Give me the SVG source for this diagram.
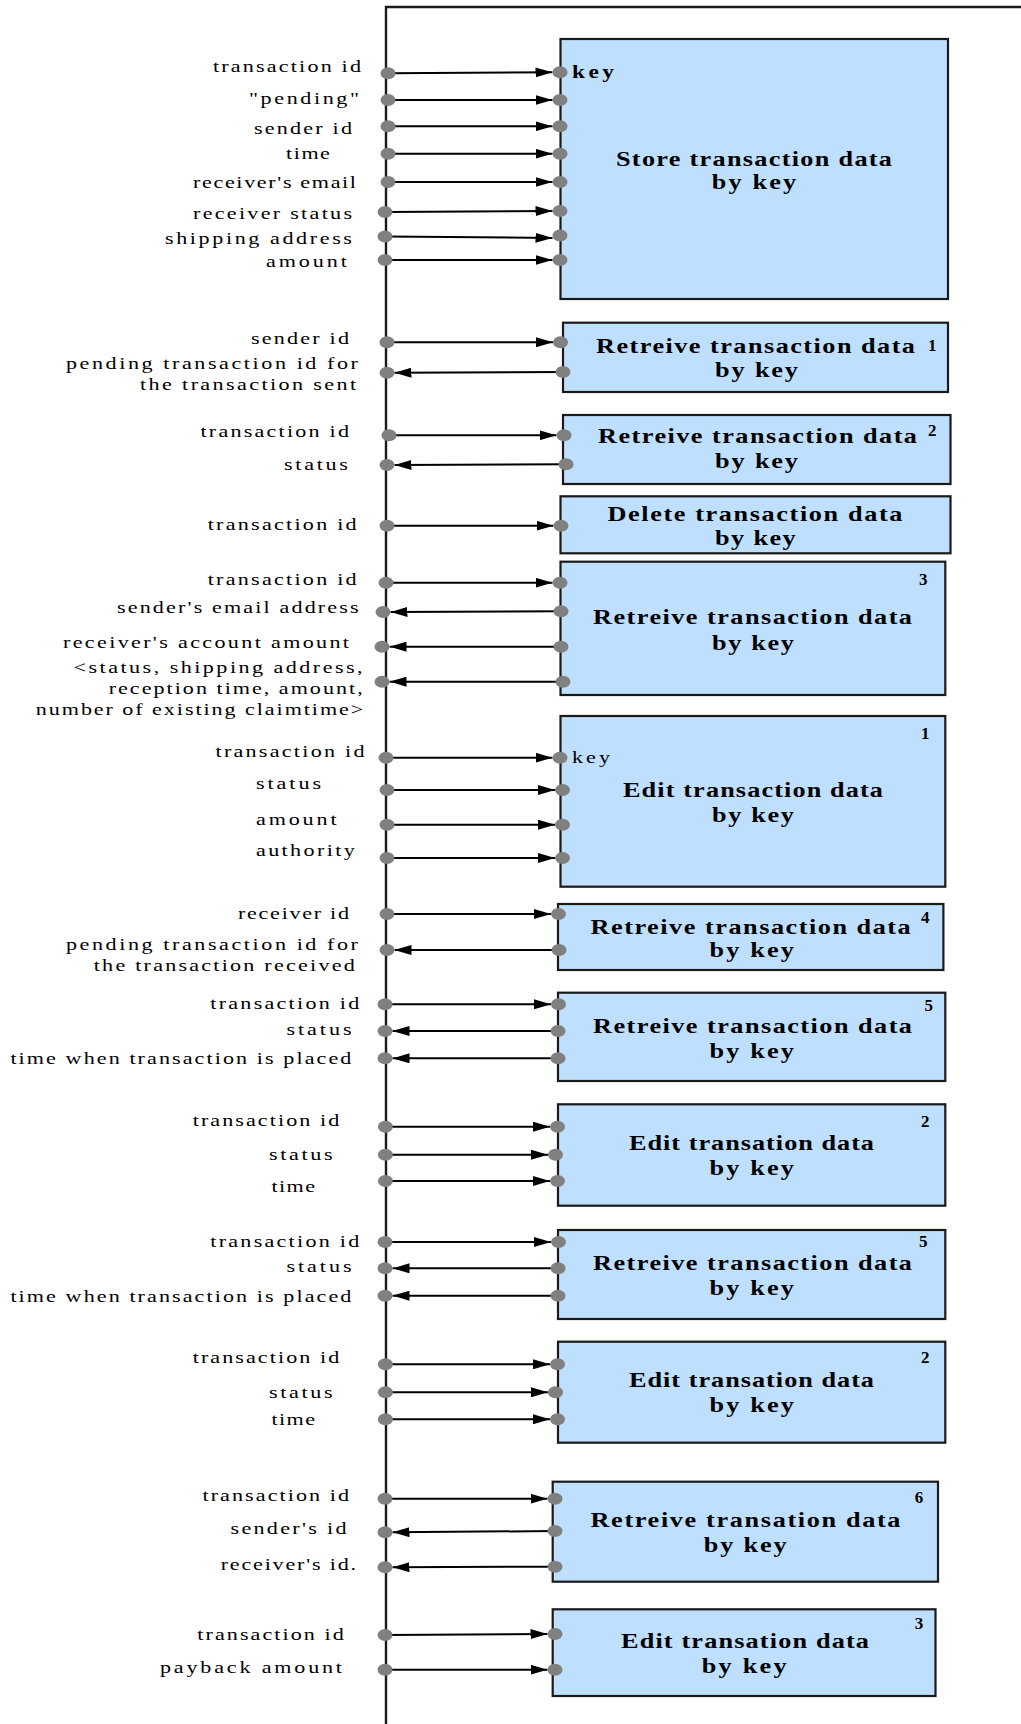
<svg xmlns="http://www.w3.org/2000/svg" width="1021" height="1724" viewBox="0 0 1021 1724">
<style>
.lbl{font-family:"Liberation Serif","Times New Roman",serif;font-size:17px;fill:#000;transform-box:fill-box;transform-origin:0 0;transform:scaleX(1.3)}
.ttl{font-family:"Liberation Serif","Times New Roman",serif;font-size:21px;font-weight:bold;fill:#000;transform-box:fill-box;transform-origin:0 0;transform:scaleX(1.25)}
.m{transform-origin:50% 0}
.num{font-family:"Liberation Serif","Times New Roman",serif;font-size:17px;font-weight:bold;fill:#000}
.kb{font-weight:bold;font-size:18px}
.box{fill:#bfdfff;stroke:#1a1a1a;stroke-width:2.2}
.c{stroke:#000;stroke-width:2;fill:none;marker-end:url(#ah)}
.d{fill:#808080}
.frame{stroke:#1a1a1a;stroke-width:2.4;fill:none}
</style>
<defs>
<marker id="ah" markerUnits="userSpaceOnUse" markerWidth="17" markerHeight="10" refX="17" refY="5" orient="auto"><path d="M0,0 L17,5 L0,10 z" fill="#000"/></marker>
</defs>
<rect width="1021" height="1724" fill="#fff"/>
<g id="frame"><path class="frame" d="M386,1724 V7 H1021"/></g>

<g id="node-store">
<rect class="box" x="560.5" y="39" width="387.5" height="260"/>
<text class="ttl m" x="754" y="165.7" text-anchor="middle" textLength="220.8" lengthAdjust="spacing">Store transaction data</text>
<text class="ttl m" x="754" y="189" text-anchor="middle" textLength="67.6" lengthAdjust="spacing">by key</text>
<text class="lbl kb" x="572" y="78.5" textLength="32.3" lengthAdjust="spacing">key</text>
<text class="lbl" x="213" y="72" textLength="113.8" lengthAdjust="spacing">transaction id</text>
<text class="lbl" x="249" y="104" textLength="84.6" lengthAdjust="spacing">"pending"</text>
<text class="lbl" x="254" y="134" textLength="75.4" lengthAdjust="spacing">sender id</text>
<text class="lbl" x="286" y="159" textLength="33.8" lengthAdjust="spacing">time</text>
<text class="lbl" x="193" y="188.5" textLength="125.4" lengthAdjust="spacing">receiver's email</text>
<text class="lbl" x="193" y="219.5" textLength="122.3" lengthAdjust="spacing">receiver status</text>
<text class="lbl" x="165" y="244" textLength="143.8" lengthAdjust="spacing">shipping address</text>
<text class="lbl" x="266" y="267.5" textLength="62.3" lengthAdjust="spacing">amount</text>
</g>

<g id="node-retrieve-1">
<rect class="box" x="563" y="322.7" width="385" height="69.3"/>
<text class="ttl" x="596" y="353.3" textLength="255.2" lengthAdjust="spacing">Retreive transaction data</text>
<text class="num" x="928" y="350.7">1</text>
<text class="ttl" x="715" y="376.7" textLength="66.4" lengthAdjust="spacing">by key</text>
<text class="lbl" x="251" y="344.3" textLength="75.4" lengthAdjust="spacing">sender id</text>
<text class="lbl" x="66" y="369" textLength="224.6" lengthAdjust="spacing">pending transaction id  for</text>
<text class="lbl" x="140" y="390" textLength="166.2" lengthAdjust="spacing">the transaction sent</text>
</g>

<g id="node-retrieve-2">
<rect class="box" x="563" y="415" width="387.5" height="69"/>
<text class="ttl" x="598" y="443.3" textLength="255.2" lengthAdjust="spacing">Retreive transaction data</text>
<text class="num" x="928" y="436">2</text>
<text class="ttl" x="715" y="468.3" textLength="66.4" lengthAdjust="spacing">by key</text>
<text class="lbl" x="200.5" y="436.7" textLength="114.2" lengthAdjust="spacing">transaction id</text>
<text class="lbl" x="284" y="470" textLength="49.2" lengthAdjust="spacing">status</text>
</g>

<g id="node-delete">
<rect class="box" x="560.5" y="496.3" width="390" height="57"/>
<text class="ttl" x="607.4" y="520.7" textLength="236" lengthAdjust="spacing">Delete transaction data</text>
<text class="ttl" x="715" y="545" textLength="64.5" lengthAdjust="spacing">by key</text>
<text class="lbl" x="207.7" y="530" textLength="114.6" lengthAdjust="spacing">transaction id</text>
</g>

<g id="node-retrieve-3">
<rect class="box" x="560.5" y="561.7" width="384.8" height="133.3"/>
<text class="ttl" x="593" y="624" textLength="255.2" lengthAdjust="spacing">Retreive transaction data</text>
<text class="num" x="919" y="585">3</text>
<text class="ttl" x="712" y="650" textLength="65.6" lengthAdjust="spacing">by key</text>
<text class="lbl" x="207.7" y="585" textLength="114.6" lengthAdjust="spacing">transaction id</text>
<text class="lbl" x="117" y="613.3" textLength="185.9" lengthAdjust="spacing">sender's email address</text>
<text class="lbl" x="63" y="648.3" textLength="220" lengthAdjust="spacing">receiver's account amount</text>
<text class="lbl" x="73.6" y="673.3" textLength="222.3" lengthAdjust="spacing">&lt;status, shipping address,</text>
<text class="lbl" x="108.7" y="694" textLength="195.4" lengthAdjust="spacing">reception time, amount,</text>
<text class="lbl" x="35.8" y="715" textLength="251.9" lengthAdjust="spacing">number of existing claimtime&gt;</text>
</g>

<g id="node-edit-1">
<rect class="box" x="560.5" y="716" width="384.8" height="170.7"/>
<text class="ttl" x="623" y="797.3" textLength="208" lengthAdjust="spacing">Edit  transaction data</text>
<text class="num" x="921" y="739.3">1</text>
<text class="ttl" x="712" y="821.7" textLength="65.6" lengthAdjust="spacing">by key</text>
<text class="lbl" x="572" y="763.3" textLength="29.2" lengthAdjust="spacing">key</text>
<text class="lbl" x="215.5" y="757" textLength="114.6" lengthAdjust="spacing">transaction  id</text>
<text class="lbl" x="256" y="789.5" textLength="50" lengthAdjust="spacing">status</text>
<text class="lbl" x="256" y="825.5" textLength="62" lengthAdjust="spacing">amount</text>
<text class="lbl" x="256" y="856.5" textLength="76" lengthAdjust="spacing">authority</text>
</g>

<g id="node-retrieve-4">
<rect class="box" x="558" y="904" width="385.4" height="66"/>
<text class="ttl" x="590.5" y="934" textLength="256.2" lengthAdjust="spacing">Retreive transaction data</text>
<text class="num" x="921" y="922.7">4</text>
<text class="ttl" x="709.6" y="956.7" textLength="67.5" lengthAdjust="spacing">by key</text>
<text class="lbl" x="238" y="919" textLength="85.4" lengthAdjust="spacing">receiver id</text>
<text class="lbl" x="66" y="950" textLength="224.6" lengthAdjust="spacing">pending transaction id  for</text>
<text class="lbl" x="93.75" y="970.7" textLength="200.8" lengthAdjust="spacing">the transaction received</text>
</g>

<g id="node-retrieve-5a">
<rect class="box" x="558" y="992.7" width="387.3" height="88.3"/>
<text class="ttl" x="593" y="1033.3" textLength="255.2" lengthAdjust="spacing">Retreive transaction data</text>
<text class="num" x="924.5" y="1010.7">5</text>
<text class="ttl" x="709.6" y="1058.3" textLength="67.5" lengthAdjust="spacing">by key</text>
<text class="lbl" x="210.3" y="1009.3" textLength="114.6" lengthAdjust="spacing">transaction id</text>
<text class="lbl" x="286.5" y="1035" textLength="50" lengthAdjust="spacing">status</text>
<text class="lbl" x="10.4" y="1064" textLength="262.3" lengthAdjust="spacing">time when transaction is placed</text>
</g>

<g id="node-edit-2a">
<rect class="box" x="558" y="1104.3" width="387.3" height="101.4"/>
<text class="ttl" x="629" y="1150" textLength="196" lengthAdjust="spacing">Edit transation data</text>
<text class="num" x="921" y="1126.7">2</text>
<text class="ttl" x="709.6" y="1175" textLength="67.5" lengthAdjust="spacing">by key</text>
<text class="lbl" x="192.7" y="1126" textLength="112.7" lengthAdjust="spacing">transaction id</text>
<text class="lbl" x="269" y="1160" textLength="49" lengthAdjust="spacing">status</text>
<text class="lbl" x="271.5" y="1191.7" textLength="33.5" lengthAdjust="spacing">time</text>
</g>

<g id="node-retrieve-5b">
<rect class="box" x="558" y="1230" width="387.3" height="89"/>
<text class="ttl" x="593" y="1270" textLength="255.2" lengthAdjust="spacing">Retreive transaction data</text>
<text class="num" x="919" y="1246.7">5</text>
<text class="ttl" x="709.6" y="1295" textLength="67.5" lengthAdjust="spacing">by key</text>
<text class="lbl" x="210.3" y="1246.7" textLength="114.6" lengthAdjust="spacing">transaction id</text>
<text class="lbl" x="286.5" y="1271.7" textLength="50" lengthAdjust="spacing">status</text>
<text class="lbl" x="10.4" y="1301.7" textLength="262.3" lengthAdjust="spacing">time when transaction is placed</text>
</g>

<g id="node-edit-2b">
<rect class="box" x="558" y="1341.7" width="387.3" height="101"/>
<text class="ttl" x="629" y="1386.7" textLength="196" lengthAdjust="spacing">Edit transation data</text>
<text class="num" x="921" y="1363.3">2</text>
<text class="ttl" x="709.6" y="1411.7" textLength="67.5" lengthAdjust="spacing">by key</text>
<text class="lbl" x="192.7" y="1363.3" textLength="112.7" lengthAdjust="spacing">transaction id</text>
<text class="lbl" x="269" y="1398.3" textLength="49" lengthAdjust="spacing">status</text>
<text class="lbl" x="271.5" y="1425" textLength="33.5" lengthAdjust="spacing">time</text>
</g>

<g id="node-retrieve-6">
<rect class="box" x="552.7" y="1481.7" width="385.3" height="100"/>
<text class="ttl" x="590.5" y="1526.7" textLength="248" lengthAdjust="spacing">Retreive transation data</text>
<text class="num" x="914.7" y="1503.3">6</text>
<text class="ttl" x="703.8" y="1551.7" textLength="66.2" lengthAdjust="spacing">by key</text>
<text class="lbl" x="202.5" y="1501" textLength="112.7" lengthAdjust="spacing">transaction id</text>
<text class="lbl" x="230.5" y="1534" textLength="89.2" lengthAdjust="spacing">sender's id</text>
<text class="lbl" x="220.7" y="1570" textLength="104.1" lengthAdjust="spacing">receiver's id.</text>
</g>

<g id="node-edit-3">
<rect class="box" x="552.7" y="1609.3" width="382.8" height="86.7"/>
<text class="ttl" x="621" y="1647.7" textLength="198.4" lengthAdjust="spacing">Edit transation data</text>
<text class="num" x="914.7" y="1629.3">3</text>
<text class="ttl" x="701.8" y="1673.3" textLength="67.8" lengthAdjust="spacing">by key</text>
<text class="lbl" x="197.3" y="1640" textLength="112.7" lengthAdjust="spacing">transaction id</text>
<text class="lbl" x="160" y="1673.3" textLength="140" lengthAdjust="spacing">payback amount</text>
</g>

<g id="connectors">
<line class="c" x1="388" y1="73.3" x2="552.5" y2="72.3"/>
<line class="c" x1="388" y1="100" x2="552.5" y2="100"/>
<line class="c" x1="388" y1="126.3" x2="552.5" y2="126.3"/>
<line class="c" x1="388" y1="153.7" x2="552.5" y2="153.7"/>
<line class="c" x1="388" y1="182" x2="552.5" y2="182"/>
<line class="c" x1="386" y1="212" x2="552.5" y2="211"/>
<line class="c" x1="386" y1="236.5" x2="552.5" y2="238"/>
<line class="c" x1="386" y1="260" x2="552.5" y2="260"/>
<line class="c" x1="387" y1="342.3" x2="553" y2="342.3"/>
<line class="c" x1="563" y1="372" x2="394.5" y2="372.7"/>
<line class="c" x1="389" y1="435.3" x2="556.5" y2="435.3"/>
<line class="c" x1="566" y1="464.3" x2="394.5" y2="465"/>
<line class="c" x1="387" y1="525.7" x2="553.5" y2="525.7"/>
<line class="c" x1="386" y1="582.7" x2="552.5" y2="582.7"/>
<line class="c" x1="561" y1="611.3" x2="390.5" y2="612"/>
<line class="c" x1="561" y1="646.7" x2="389.5" y2="646.7"/>
<line class="c" x1="563" y1="681.7" x2="389.5" y2="681.7"/>
<line class="c" x1="386" y1="757.7" x2="552.5" y2="757.7"/>
<line class="c" x1="387" y1="790" x2="555" y2="790"/>
<line class="c" x1="387" y1="824.7" x2="555" y2="824.7"/>
<line class="c" x1="387" y1="858" x2="555" y2="858"/>
<line class="c" x1="387" y1="914" x2="551" y2="914"/>
<line class="c" x1="559" y1="950" x2="394.5" y2="950"/>
<line class="c" x1="385" y1="1004.3" x2="551" y2="1004.3"/>
<line class="c" x1="558" y1="1031" x2="392.5" y2="1031"/>
<line class="c" x1="558" y1="1058.3" x2="392.5" y2="1058.3"/>
<line class="c" x1="385.4" y1="1126.7" x2="550" y2="1126.7"/>
<line class="c" x1="385.4" y1="1154.7" x2="548" y2="1154.7"/>
<line class="c" x1="385.4" y1="1181" x2="550" y2="1181"/>
<line class="c" x1="385" y1="1242" x2="551" y2="1242"/>
<line class="c" x1="558" y1="1268.3" x2="392.5" y2="1268.3"/>
<line class="c" x1="558" y1="1295.7" x2="392.5" y2="1295.7"/>
<line class="c" x1="385.4" y1="1364.3" x2="550" y2="1364.3"/>
<line class="c" x1="385.4" y1="1392.3" x2="548" y2="1392.3"/>
<line class="c" x1="385.4" y1="1419.3" x2="550" y2="1419.3"/>
<line class="c" x1="385" y1="1498.7" x2="547.5" y2="1498.7"/>
<line class="c" x1="555" y1="1531" x2="392.5" y2="1532.3"/>
<line class="c" x1="555" y1="1566.7" x2="392.5" y2="1567.3"/>
<line class="c" x1="385" y1="1635" x2="547.5" y2="1634"/>
<line class="c" x1="385" y1="1669.7" x2="547.5" y2="1669.7"/>

<g class="d">
<ellipse cx="388" cy="73.3" rx="7.5" ry="6"/><ellipse cx="560" cy="72.3" rx="7.5" ry="6"/>
<ellipse cx="388" cy="100" rx="7.5" ry="6"/><ellipse cx="560" cy="100" rx="7.5" ry="6"/>
<ellipse cx="388" cy="126.3" rx="7.5" ry="6"/><ellipse cx="560" cy="126.3" rx="7.5" ry="6"/>
<ellipse cx="388" cy="153.7" rx="7.5" ry="6"/><ellipse cx="560" cy="153.7" rx="7.5" ry="6"/>
<ellipse cx="388" cy="182" rx="7.5" ry="6"/><ellipse cx="560" cy="182" rx="7.5" ry="6"/>
<ellipse cx="385" cy="212" rx="7.5" ry="6"/><ellipse cx="560" cy="211" rx="7.5" ry="6"/>
<ellipse cx="385" cy="236.5" rx="7.5" ry="6"/><ellipse cx="560" cy="235.5" rx="7.5" ry="6"/>
<ellipse cx="385" cy="260" rx="7.5" ry="6"/><ellipse cx="560" cy="260" rx="7.5" ry="6"/>
<ellipse cx="387" cy="342.3" rx="7.5" ry="6"/><ellipse cx="560.5" cy="342.3" rx="7.5" ry="6"/>
<ellipse cx="387" cy="372.7" rx="7.5" ry="6"/><ellipse cx="563" cy="372" rx="7.5" ry="6"/>
<ellipse cx="389" cy="435.3" rx="7.5" ry="6"/><ellipse cx="564" cy="435.3" rx="7.5" ry="6"/>
<ellipse cx="387" cy="465" rx="7.5" ry="6"/><ellipse cx="566" cy="464.3" rx="7.5" ry="6"/>
<ellipse cx="387" cy="525.7" rx="7.5" ry="6"/><ellipse cx="561" cy="525.7" rx="7.5" ry="6"/>
<ellipse cx="386" cy="582.7" rx="7.5" ry="6"/><ellipse cx="560" cy="582.7" rx="7.5" ry="6"/>
<ellipse cx="383" cy="612" rx="7.5" ry="6"/><ellipse cx="561" cy="611.3" rx="7.5" ry="6"/>
<ellipse cx="382" cy="646.7" rx="7.5" ry="6"/><ellipse cx="561" cy="646.7" rx="7.5" ry="6"/>
<ellipse cx="382" cy="681.7" rx="7.5" ry="6"/><ellipse cx="563" cy="681.7" rx="7.5" ry="6"/>
<ellipse cx="386" cy="757.7" rx="7.5" ry="6"/><ellipse cx="560" cy="757.7" rx="7.5" ry="6"/>
<ellipse cx="387" cy="790" rx="7.5" ry="6"/><ellipse cx="562.5" cy="790" rx="7.5" ry="6"/>
<ellipse cx="387" cy="824.7" rx="7.5" ry="6"/><ellipse cx="562.5" cy="824.7" rx="7.5" ry="6"/>
<ellipse cx="387" cy="858" rx="7.5" ry="6"/><ellipse cx="562.5" cy="858" rx="7.5" ry="6"/>
<ellipse cx="387" cy="914" rx="7.5" ry="6"/><ellipse cx="558.5" cy="914" rx="7.5" ry="6"/>
<ellipse cx="387" cy="950" rx="7.5" ry="6"/><ellipse cx="559" cy="950" rx="7.5" ry="6"/>
<ellipse cx="385" cy="1004.3" rx="7.5" ry="6"/><ellipse cx="558.5" cy="1004.3" rx="7.5" ry="6"/>
<ellipse cx="385" cy="1031" rx="7.5" ry="6"/><ellipse cx="558" cy="1031" rx="7.5" ry="6"/>
<ellipse cx="385" cy="1058.3" rx="7.5" ry="6"/><ellipse cx="558" cy="1058.3" rx="7.5" ry="6"/>
<ellipse cx="385.4" cy="1126.7" rx="7.5" ry="6"/><ellipse cx="557.5" cy="1126.7" rx="7.5" ry="6"/>
<ellipse cx="385.4" cy="1154.7" rx="7.5" ry="6"/><ellipse cx="555.5" cy="1154.7" rx="7.5" ry="6"/>
<ellipse cx="385.4" cy="1181" rx="7.5" ry="6"/><ellipse cx="557.5" cy="1181" rx="7.5" ry="6"/>
<ellipse cx="385" cy="1242" rx="7.5" ry="6"/><ellipse cx="558.5" cy="1242" rx="7.5" ry="6"/>
<ellipse cx="385" cy="1268.3" rx="7.5" ry="6"/><ellipse cx="558" cy="1268.3" rx="7.5" ry="6"/>
<ellipse cx="385" cy="1295.7" rx="7.5" ry="6"/><ellipse cx="558" cy="1295.7" rx="7.5" ry="6"/>
<ellipse cx="385.4" cy="1364.3" rx="7.5" ry="6"/><ellipse cx="557.5" cy="1364.3" rx="7.5" ry="6"/>
<ellipse cx="385.4" cy="1392.3" rx="7.5" ry="6"/><ellipse cx="555.5" cy="1392.3" rx="7.5" ry="6"/>
<ellipse cx="385.4" cy="1419.3" rx="7.5" ry="6"/><ellipse cx="557.5" cy="1419.3" rx="7.5" ry="6"/>
<ellipse cx="385" cy="1498.7" rx="7.5" ry="6"/><ellipse cx="555" cy="1498.7" rx="7.5" ry="6"/>
<ellipse cx="385" cy="1532.3" rx="7.5" ry="6"/><ellipse cx="555" cy="1531" rx="7.5" ry="6"/>
<ellipse cx="385" cy="1567.3" rx="7.5" ry="6"/><ellipse cx="555" cy="1566.7" rx="7.5" ry="6"/>
<ellipse cx="385" cy="1635" rx="7.5" ry="6"/><ellipse cx="555" cy="1634" rx="7.5" ry="6"/>
<ellipse cx="385" cy="1669.7" rx="7.5" ry="6"/><ellipse cx="555" cy="1669.7" rx="7.5" ry="6"/>
</g>
</g>
</svg>
